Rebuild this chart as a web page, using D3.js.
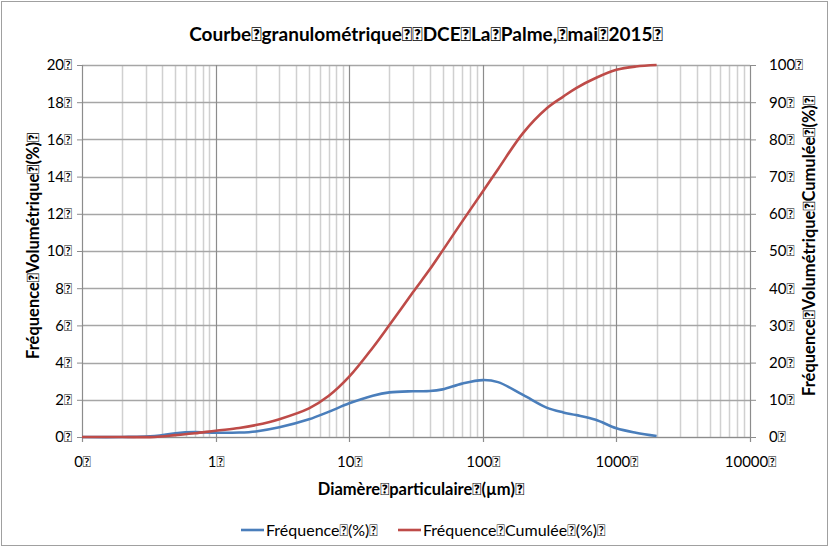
<!DOCTYPE html>
<html lang="fr">
  <head>
    <meta charset="UTF-8">
    <title>Courbe granulométrique</title>
    <style>
      body { margin: 0; background: #fff; }
      text { font-family: Lato, "Open Sans", sans-serif; fill: #000; }
    </style>
  </head>
  <body>
    <div id="chart"></div>
    <script src="https://d3js.org/d3.v7.min.js"></script>
    <script>
      // the original file has an unmapped space glyph after each word
      const B = "\uF020";

      // particle diameter classes (µm)
      const diametres = [0.1, 0.2, 0.35, 0.5, 0.7, 1, 1.5, 2, 3, 5, 7, 10, 15, 20, 30, 40, 50, 70, 100, 130, 200, 300, 400, 500, 700, 1000, 1400, 2000];
      // Fréquence (%) - left axis
      const frequence = [0, 0, 0.05, 0.2, 0.26, 0.23, 0.24, 0.3, 0.52, 0.95, 1.35, 1.81, 2.22, 2.4, 2.46, 2.47, 2.56, 2.87, 3.06, 2.95, 2.26, 1.58, 1.32, 1.18, 0.93, 0.47, 0.23, 0.05];
      // Fréquence cumulée (%) - right axis
      const cumulee = [0, 0, 0, 0.5, 1.0, 1.7, 2.4, 3.2, 4.8, 7.7, 11.0, 16.2, 24, 30.1, 38.9, 45.0, 50.1, 57.9, 66, 72, 81.7, 88.3, 91.5, 93.8, 96.5, 98.7, 99.6, 100];

      const xTicks = [0.1, 1, 10, 100, 1000, 10000];
      const xTickLabels = ["0", "1", "10", "100", "1000", "10000"];
      const yTicks = [0, 2, 4, 6, 8, 10, 12, 14, 16, 18, 20];
      const y2Ticks = [0, 10, 20, 30, 40, 50, 60, 70, 80, 90, 100];

      const W = 830, H = 548;
      const plot = { left: 82, right: 750, top: 65, bottom: 437 };

      const svg = d3.select("#chart").append("svg")
        .attr("width", W).attr("height", H);

      svg.append("rect")
        .attr("x", 1.5).attr("y", 1.5)
        .attr("width", W - 4).attr("height", H - 4)
        .attr("fill", "#fff").attr("stroke", "#a0a0a0");

      const x = d3.scaleLog().domain([0.1, 10000]).range([plot.left, plot.right]);
      const y = d3.scaleLinear().domain([0, 20]).range([plot.bottom, plot.top]);
      const y2 = d3.scaleLinear().domain([0, 100]).range([plot.bottom, plot.top]);

      // minor vertical grid (2..9 in each decade)
      const minor = [];
      for (let d = 0.1; d < 10000; d *= 10) {
        for (let k = 2; k <= 9; k++) minor.push(d * k);
      }
      svg.append("g").selectAll("line").data(minor).join("line")
        .attr("x1", d => Math.round(x(d)) + 0.5).attr("x2", d => Math.round(x(d)) + 0.5)
        .attr("y1", plot.top).attr("y2", plot.bottom)
        .attr("stroke", "#d0d0d0").attr("stroke-width", 1.5);

      // horizontal grid
      svg.append("g").selectAll("line").data(yTicks).join("line")
        .attr("x1", plot.left).attr("x2", plot.right)
        .attr("y1", d => Math.round(y(d)) + 0.5).attr("y2", d => Math.round(y(d)) + 0.5)
        .attr("stroke", "#a6a6a6").attr("stroke-width", 1.5);

      // major vertical grid
      svg.append("g").selectAll("line").data(xTicks).join("line")
        .attr("x1", d => Math.round(x(d)) + 0.5).attr("x2", d => Math.round(x(d)) + 0.5)
        .attr("y1", plot.top).attr("y2", plot.bottom + 5)
        .attr("stroke", "#8c8c8c").attr("stroke-width", 1.2);

      // left axis
      const gl = svg.append("g").attr("transform", "translate(" + plot.left + ",0)")
        .call(d3.axisLeft(y).tickValues(yTicks).tickSize(5).tickPadding(5).tickFormat(d => d + B));
      gl.select(".domain").attr("stroke", "#8c8c8c");
      gl.selectAll(".tick line").attr("stroke", "#8c8c8c");
      gl.selectAll("text").style("font-size", "15px");

      // right axis
      const gr = svg.append("g").attr("transform", "translate(" + plot.right + ",0)")
        .call(d3.axisRight(y2).tickValues(y2Ticks).tickSize(6).tickPadding(13).tickFormat(d => d + B));
      gr.select(".domain").attr("stroke", "#8c8c8c");
      gr.selectAll(".tick line").attr("stroke", "#8c8c8c");
      gr.selectAll("text").style("font-size", "15px");

      // bottom axis labels
      const gb = svg.append("g").attr("transform", "translate(0," + plot.bottom + ")")
        .call(d3.axisBottom(x).tickValues(xTicks).tickSize(0).tickPadding(19)
          .tickFormat((d, i) => xTickLabels[i] + B));
      gb.select(".domain").attr("stroke", "#8c8c8c");
      gb.selectAll("text").style("font-size", "15px");

      // curves
      const line = (vals, ys) => d3.line()
        .x((d, i) => x(diametres[i]))
        .y(d => ys(d))
        .curve(d3.curveCatmullRom.alpha(0.5))(vals);

      svg.append("path").attr("d", line(frequence, y))
        .attr("fill", "none").attr("stroke", "#4a7ebb").attr("stroke-width", 2.6);
      svg.append("path").attr("d", line(cumulee, y2))
        .attr("fill", "none").attr("stroke", "#be4b48").attr("stroke-width", 2.6);

      // titles
      svg.append("text").attr("x", 426).attr("y", 41).attr("text-anchor", "middle")
        .style("font-size", "19px").style("font-weight", "bold")
        .text("Courbe" + B + "granulométrique" + B + B + "DCE" + B + "La" + B + "Palme," + B + "mai" + B + "2015" + B);

      svg.append("text").attr("transform", "translate(39,246) rotate(-90)")
        .attr("text-anchor", "middle")
        .style("font-size", "16.5px").style("font-weight", "bold")
        .text("Fréquence" + B + "Volumétrique" + B + "(%)" + B);

      svg.append("text").attr("transform", "translate(815,246) rotate(-90)")
        .attr("text-anchor", "middle")
        .style("font-size", "16.5px").style("font-weight", "bold")
        .text("Fréquence" + B + "Volumétrique" + B + "Cumulée" + B + "(%)" + B);

      svg.append("text").attr("x", 421).attr("y", 495).attr("text-anchor", "middle")
        .style("font-size", "16.5px").style("font-weight", "bold")
        .text("Diamère" + B + "particulaire" + B + "(µm)" + B);

      // legend
      const legend = [
        { label: "Fréquence" + B + "(%)" + B, color: "#4a7ebb", x: 241 },
        { label: "Fréquence" + B + "Cumulée" + B + "(%)" + B, color: "#be4b48", x: 398 }
      ];
      const lg = svg.append("g").selectAll("g").data(legend).join("g")
        .attr("transform", d => "translate(" + d.x + ",530)");
      lg.append("line").attr("x1", 0).attr("x2", 23).attr("y1", 0).attr("y2", 0)
        .attr("stroke", d => d.color).attr("stroke-width", 2.6);
      lg.append("text").attr("x", 25).attr("y", 5.5)
        .style("font-size", "16px").text(d => d.label);
    </script>
  </body>
</html>
